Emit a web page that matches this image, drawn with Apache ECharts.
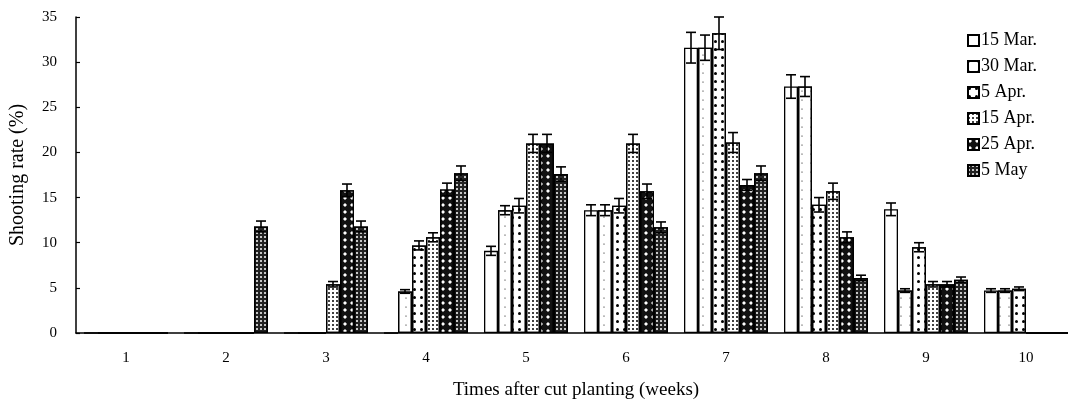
<!DOCTYPE html>
<html><head><meta charset="utf-8">
<script src="https://cdn.jsdelivr.net/npm/echarts@6/dist/echarts.min.js"></script>
<style>html,body{margin:0;padding:0;background:#fff;overflow:hidden;width:1068px;height:405px}#c{width:1076px;height:405px}</style>
</head><body><div id="c"></div>
<script>
const categories = ['1','2','3','4','5','6','7','8','9','10'];
const seriesNames = ['15 Mar.','30 Mar.','5 Apr.','15 Apr.','25 Apr.','5 May'];
const v15Mar = [0,0,0,0,9.1,13.6,31.6,27.3,13.7,4.7];
const v30Mar = [0,0,0,4.6,13.6,13.6,31.6,27.3,4.7,4.7];
const v5Apr  = [0,0,0,9.7,14.1,14.1,33.2,14.2,9.5,4.9];
const v15Apr = [0,0,5.4,10.6,21.0,21.0,21.1,15.7,5.4,0];
const v25Apr = [0,0,15.8,15.9,21.0,15.7,16.4,10.6,5.4,0];
const v5May  = [0,11.8,11.8,17.7,17.6,11.7,17.7,6.1,5.9,0];
const e15Mar = [0,0,0,0,0.5,0.6,1.7,1.3,0.7,0.2];
const e30Mar = [0,0,0,0.2,0.5,0.6,1.4,1.1,0.2,0.2];
const e5Apr  = [0,0,0,0.5,0.8,0.8,1.8,0.8,0.5,0.2];
const e15Apr = [0,0,0.3,0.5,1.0,1.0,1.1,0.9,0.3,0];
const e25Apr = [0,0,0.7,0.7,1.0,0.8,0.6,0.6,0.3,0];
const e5May  = [0,0.6,0.6,0.8,0.8,0.6,0.8,0.3,0.3,0];
const yTicks = [0,5,10,15,20,25,30,35];

const values = [v15Mar,v30Mar,v5Apr,v15Apr,v25Apr,v5May];
const errors = [e15Mar,e30Mar,e5Apr,e15Apr,e25Apr,e5May];

const BAR_W = 14;
const FONT = '"Liberation Serif", "Times New Roman", serif';
const styles = [
  {color:'#fff'},
  {color:'#fff', decal:{symbol:'circle', symbolSize:0.6, color:'#000', dashArrayX:[2,7], dashArrayY:[2,7]}},
  {color:'#fff', decal:{symbol:'circle', symbolSize:1, color:'#000', dashArrayX:[3,4], dashArrayY:[3,5]}},
  {color:'#fff', decal:{symbol:'circle', symbolSize:1, color:'#000', dashArrayX:[2,2], dashArrayY:[2,2]}},
  {color:'#111', decal:{symbol:'diamond', symbolSize:1, color:'#fff', dashArrayX:[4,3], dashArrayY:[4,3]}},
  {color:'#222', decal:{symbol:'circle', symbolSize:1, color:'#fff', dashArrayX:[2,2], dashArrayY:[2,2]}}
];

const barSeries = seriesNames.map((n,i)=>({
  name:n, type:'bar', barWidth:BAR_W, barGap:'0%',
  data: values[i],
  itemStyle: Object.assign({borderColor:'#000', borderWidth:1.3}, styles[i]),
  emphasis:{disabled:true}
}));

const errData = [];
values.forEach((arr,si)=>arr.forEach((v,ci)=>{ if(v>0) errData.push([ci, si, v, errors[si][ci]]); }));

const errSeries = {
  type:'custom', z:10, silent:true,
  encode:{x:0, y:2},
  data: errData,
  renderItem: function(params, api){
    const c = api.value(0), si = api.value(1), v = api.value(2), e = api.value(3);
    if(!(e>0)) return null;
    const base = api.coord([c, v]);
    const x = base[0] + (si - 2.5) * BAR_W;
    const yt = api.coord([c, v+e])[1], yb = api.coord([c, v-e])[1];
    const hw = 5;
    const st = {stroke:'#000', lineWidth:1.6};
    return {type:'group', children:[
      {type:'line', shape:{x1:x,y1:yt,x2:x,y2:yb}, style:st},
      {type:'line', shape:{x1:x-hw,y1:yt,x2:x+hw,y2:yt}, style:st},
      {type:'line', shape:{x1:x-hw,y1:yb,x2:x+hw,y2:yb}, style:st}
    ]};
  }
};

const chart = echarts.init(document.getElementById('c'), null, {renderer:'canvas'});
chart.setOption({
  animation:false,
  backgroundColor:'#fff',
  textStyle:{fontFamily:FONT, color:'#000'},
  grid:{left:76, right:0, top:17, bottom:71, containLabel:false},
  legend:{
    data:seriesNames, orient:'vertical', left:962, top:26,
    itemWidth:11, itemHeight:11, itemGap:7,
    textStyle:{fontFamily:FONT, fontSize:18, color:'#000', lineHeight:19, padding:[0,0,0,-3]},
    icon:'rect', selectedMode:false
  },
  xAxis:{
    type:'category', data:categories,
    name:'Times after cut planting (weeks)', nameLocation:'middle', nameGap:48,
    nameTextStyle:{fontFamily:FONT, fontSize:19, color:'#000'},
    axisLine:{lineStyle:{color:'#000', width:1.5}},
    axisTick:{inside:true, length:5, lineStyle:{color:'#000', width:1.2}},
    axisLabel:{fontFamily:FONT, fontSize:15, color:'#000', margin:18},
    splitLine:{show:false}
  },
  yAxis:{
    type:'value', min:yTicks[0], max:yTicks[yTicks.length-1], interval:5,
    name:'Shooting rate (%)', nameLocation:'middle', nameGap:48, nameRotate:90,
    nameTextStyle:{fontFamily:FONT, fontSize:20, color:'#000'},
    axisLine:{show:true, lineStyle:{color:'#000', width:1.5}},
    axisTick:{show:true, inside:true, length:4, lineStyle:{color:'#000', width:1.2}},
    axisLabel:{fontFamily:FONT, fontSize:15, color:'#000', margin:19},
    splitLine:{show:false}
  },
  series: barSeries.concat([errSeries])
});
</script>
</body></html>
